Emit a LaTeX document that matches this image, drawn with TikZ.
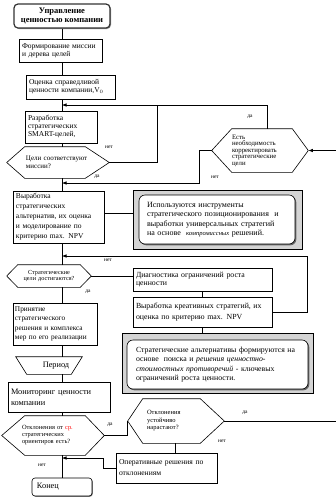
\documentclass[tikz,border=0pt]{standalone}
\usepackage{fontspec}
\setmainfont{Liberation Serif}
\usetikzlibrary{arrows.meta,calc,shadows}
\newcommand\hexo[3]{\draw ([xshift=#2]#1.north west) -- ([xshift=-#3]#1.north east) -- (#1.east) -- ([xshift=-#3]#1.south east) -- ([xshift=#2]#1.south west) -- (#1.west) -- cycle;}
\newcommand\fs[2]{\fontsize{#1}{#2}\selectfont}
\begin{document}
\begin{tikzpicture}[x=1pt,y=-1pt,line width=0.6pt,
  bx/.style 2 args={draw, fill=white, inner xsep=3pt, inner ysep=0pt, text width=#1, minimum height=#2, align=left},
  hx/.style 2 args={inner xsep=0pt, inner ysep=0pt, text width=#1, minimum height=#2, align=left},
  arr/.style={-{Latex[length=4.5pt,width=3.5pt]}},
  lab/.style={font=\fs{5.5}{6}, inner sep=0pt},
  panel/.style 2 args={draw, fill=black!17, minimum width=#1, minimum height=#2, inner sep=0pt},
  inner/.style={draw, fill=white, rounded corners=6pt, align=left, inner ysep=0pt,
    drop shadow={shadow xshift=1.3pt, shadow yshift=-1.3pt, fill=black!60, opacity=1}},
]
\useasboundingbox (0,0) rectangle (336,499);

% main column
\node[draw=black!80, line width=1.2pt, fill=white, rounded corners=4pt, minimum width=96, minimum height=24, align=center, inner sep=0pt, font=\bfseries\fs{8.5}{9.3},
  drop shadow={shadow xshift=1pt, shadow yshift=-1pt, fill=black!45, opacity=1}] (t) at (62,16) {Управление\\ценностью компании};
\node[bx={77}{23}, font=\fs{7.5}{8.3}] (b2) at (60.5,50.5) {Формирование миссии\\и дерева целей};
\node[bx={83}{24}, font=\fs{7.5}{8.3}] (b3) at (70.5,87) {Оценка справедливой\\ценности компании,V$_0$};
\node[bx={66}{32}, font=\fs{7.5}{8}] (b5) at (61,127) {Разработка\\стратегических\\SMART-целей,};
\node[hx={64}{31}, font=\fs{7}{8.3}, minimum width=102] (h1) at (58,162.5) {Цели соответствуют\\миссии?};
\hexo{h1}{18pt}{24pt}
\node[hx={56}{43}, font=\fs{6.8}{6.5}, minimum width=96] (h2) at (260,150.5) {Есть\\необходимость\\корректировать\\стратегические\\цели};
\hexo{h2}{20pt}{16pt}
\node[bx={85}{52}, font=\fs{7.5}{10}] (b9) at (58.5,217) {Выработка\\стратегических\\альтернатив, их оценка\\и моделирование по\\критерию max. NPV};
\node[panel={169}{59}] (p1) at (217.5,219.5) {};
\node[inner, inner xsep=8pt, text width=140, minimum height=49, font=\fs{8}{9.5}] (i1) at (217,219.5) {Используются инструменты\\стратегического позиционирования~ и\\выработки универсальных стратегий\\на основе~ {\itshape\fs{6.5}{9.5}компромиссных} решений.};
\node[hx={62}{22}, font=\fs{6.2}{5.8}, minimum width=84, align=center] (h3) at (49,276) {Стратегические\\цели достигаются?};
\hexo{h3}{11pt}{11pt}
\node[bx={133}{23}, font=\fs{7.8}{8}] (b13) at (202.5,279.5) {Диагностика ограничений роста\\ценности};
\node[bx={133}{30}, font=\fs{7.8}{10.5}] (b14) at (202.5,312) {Выработка креативных стратегий, их\\оценка по критерию max. NPV};
\node[panel={191}{60}] (p2) at (217.5,363) {};
\node[inner, inner xsep=9pt, text width=163, minimum height=49, font=\fs{7.8}{9.3}] (i2) at (217.5,364.5) {Стратегические альтернативы формируются на\\основе~ поиска и {\itshape решения ценностно-}\\{\itshape стоимостных противоречий} - ключевых\\ограничений роста ценности.};
\node[bx={80}{42}, inner xsep=2pt, font=\fs{7.3}{9.4}] (b16) at (55,324) {Принятие\\стратегического\\решения и комплекса\\мер по его реализации};
\node[minimum width=66, minimum height=17, inner sep=0pt, font=\fs{8.3}{9}] (tr) at (49,365.5) {\hspace*{14pt}Период};
\draw (tr.north west) -- (tr.north east) -- ([xshift=-11pt]tr.south east) -- ([xshift=11pt]tr.south west) -- cycle;
\node[bx={96}{30}, font=\fs{8.3}{10.7}] (b18) at (59,397) {Мониторинг ценности\\компании};
\node[hx={62}{39}, font=\fs{6.4}{7}, minimum width=102] (h4) at (53,435.5) {Отклонения от {\color{red}ср.}\\стратегических\\ориентиров есть?};
\hexo{h4}{23pt}{19pt}
\node[hx={58}{44}, font=\fs{6.5}{7.5}, minimum width=96] (h5) at (176,421) {Отклонения\\устойчиво\\нарастают?};
\hexo{h5}{15pt}{24pt}
\node[bx={95}{30}, inner xsep=3pt, font=\fs{7.6}{11}] (b22) at (166.5,468) {Оперативные решения по\\отклонениям};
\node[draw, fill=white, rounded corners=3pt, inner xsep=5pt, inner ysep=0pt, text width=50, minimum height=18, align=left, font=\fs{8.3}{9},
  drop shadow={shadow xshift=0.8pt, shadow yshift=-0.8pt, fill=black!50, opacity=1}] (en) at (62,487) {Конец};

% coordinates
\coordinate (a1) at (62,105);
\coordinate (j1) at (157,105);
\coordinate (a2) at (62,183);
\coordinate (a3) at (62,256);
\coordinate (a4) at (62,458);
\coordinate (r1) at (336,150.5);
\coordinate (r2) at (336,421);

% main vertical connectors
\draw (t) -- (t |- b2.north);
\draw (t |- b2.south) -- (t |- b3.north);
\draw (t |- b3.south) -- (t |- b5.north);
\draw (t |- b5.south) -- (t |- h1.north);
\draw (t |- h1.south) -- (t |- b9.north);
\draw (t |- b9.south) -- (t |- h3.north);
\draw (t |- h3.south) -- (t |- b16.north);
\draw (t |- b16.south) -- (t |- tr.north);
\draw (t |- tr.south) -- (t |- b18.north);
\draw (t |- b18.south) -- (t |- h4.north);
\draw (t |- h4.south) -- (t |- en.north);

% other connectors
\draw[arr] ([xshift=7pt]h2.north) |- (a1);
\draw (h1.east) -| (j1);
\draw[arr] (h2.west) -- ++(-12,0) |- (a2);
\draw[arr] (r1) -- (h2.east);
\draw ([yshift=4pt]b9.east) -- ([yshift=4pt]b9.east -| p1.west);
\draw[arr] (b14.east) -- ++(35,0) |- (a3);
\draw (h3.east) -- (h3.east -| b13.west);
\draw (b13.south) -- (b14.north);
\draw (b14.south) -- (b14.south |- p2.north);
\draw (h4.east) -| (h5.west);
\draw (h5.east) -- (r2);
\draw ([xshift=-1pt]h5.south) -- ([xshift=-1pt]h5.south |- b22.north);
\draw[arr] (b22.west) -- ++(-12,0) |- (a4);

% labels
\node[lab] (l1) at (250,117) {да};
\node[lab] (l2) at (109,147) {нет};
\node[lab] (l3) at (97,177) {да};
\node[lab] (l4) at (215,177) {нет};
\node[lab] (l5) at (108,260) {нет};
\node[lab] (l6) at (88,292) {да};
\node[lab] (l7) at (110,425) {да};
\node[lab] (l8) at (245,413) {да};
\node[lab] (l9) at (222,441) {нет};
\node[lab] (l10) at (42,465) {нет};
\end{tikzpicture}
\end{document}
